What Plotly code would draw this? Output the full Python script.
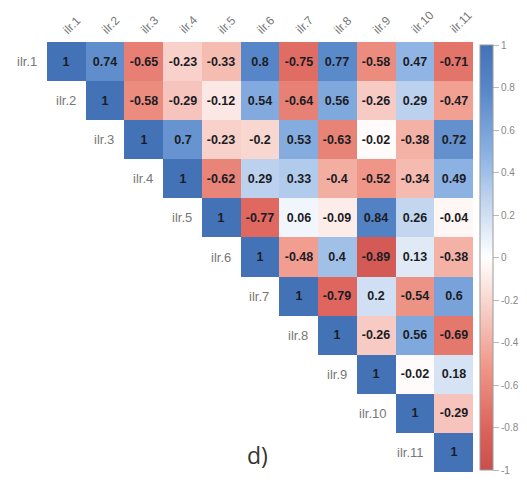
import plotly.graph_objects as go

labels = ["ilr.1", "ilr.2", "ilr.3", "ilr.4", "ilr.5", "ilr.6", "ilr.7", "ilr.8", "ilr.9", "ilr.10", "ilr.11"]

row1 = [1, 0.74, -0.65, -0.23, -0.33, 0.8, -0.75, 0.77, -0.58, 0.47, -0.71]
row2 = [1, -0.58, -0.29, -0.12, 0.54, -0.64, 0.56, -0.26, 0.29, -0.47]
row3 = [1, 0.7, -0.23, -0.2, 0.53, -0.63, -0.02, -0.38, 0.72]
row4 = [1, -0.62, 0.29, 0.33, -0.4, -0.52, -0.34, 0.49]
row5 = [1, -0.77, 0.06, -0.09, 0.84, 0.26, -0.04]
row6 = [1, -0.48, 0.4, -0.89, 0.13, -0.38]
row7 = [1, -0.79, 0.2, -0.54, 0.6]
row8 = [1, -0.26, 0.56, -0.69]
row9 = [1, -0.02, 0.18]
row10 = [1, -0.29]
row11 = [1]
rows = [row1, row2, row3, row4, row5, row6, row7, row8, row9, row10, row11]

colorbar_ticks = [1, 0.8, 0.6, 0.4, 0.2, 0, -0.2, -0.4, -0.6, -0.8, -1]

n = len(labels)
z = []
text = []
for i, r in enumerate(rows):
    zr = [None] * i + list(r)
    z.append(zr)
    text.append(["" if v is None else "<b>%s</b>" % format(v, "g") for v in zr])

FONT = "Arial, Liberation Sans, sans-serif"
colorscale = [
    [0.0, "#C84F4D"],
    [0.1, "#DD645C"],
    [0.25, "#F09A8B"],
    [0.5, "#FFFFFF"],
    [0.75, "#89B0E2"],
    [0.9, "#5686C7"],
    [1.0, "#4373B6"],
]

fig = go.Figure(go.Heatmap(
    z=z,
    x=list(range(1, n + 1)),
    y=list(range(1, n + 1)),
    text=text,
    texttemplate="%{text}",
    textfont=dict(family=FONT, size=12.5, color="#1c1c24"),
    zmin=-1, zmax=1,
    colorscale=colorscale,
    hoverongaps=False,
    colorbar=dict(
        x=(472 - 39) / 426, xanchor="left", xpad=0,
        y=0.4988, yanchor="middle", ypad=0,
        lenmode="pixels", len=425,
        thickness=13,
        outlinewidth=1, outlinecolor="#9a9a9a",
        tickvals=colorbar_ticks,
        ticktext=[format(v, "g") for v in colorbar_ticks],
        ticks="outside", ticklen=6, tickcolor="#bbbbbb",
        tickfont=dict(family=FONT, size=10, color="#888888"),
    ),
))

annotations = []
for k, lab in enumerate(labels, start=1):
    # row labels left of diagonal
    annotations.append(dict(
        x=k - 0.5, y=k, xref="x", yref="y", text=lab, showarrow=False,
        xanchor="right", yanchor="middle", xshift=-8,
        font=dict(family=FONT, size=13, color="#777777"),
    ))
    # column labels on top, rotated
    annotations.append(dict(
        x=k, y=0.5, xref="x", yref="y", text=lab, showarrow=False,
        xanchor="left", yanchor="bottom", textangle=-45, xshift=-9, yshift=3,
        font=dict(family=FONT, size=12, color="#777777"),
    ))

annotations.append(dict(
    x=(257 - 47) / 426, y=(472 - 455) / 430, xref="paper", yref="paper",
    text="d)", showarrow=False, xanchor="center", yanchor="middle",
    font=dict(family="Open Sans, Liberation Sans, sans-serif", size=23, color="#333333"),
))

# The page body adds an 8px offset, so margins are reduced accordingly.
fig.update_layout(
    width=527, height=480,
    margin=dict(l=39, r=62, t=34, b=16),
    paper_bgcolor="white", plot_bgcolor="white",
    xaxis=dict(range=[0.5, n + 0.5], visible=False, fixedrange=True),
    yaxis=dict(range=[n + 0.5, 0.5], visible=False, fixedrange=True),
    annotations=annotations,
    showlegend=False,
)

fig.write_html("out.html")
